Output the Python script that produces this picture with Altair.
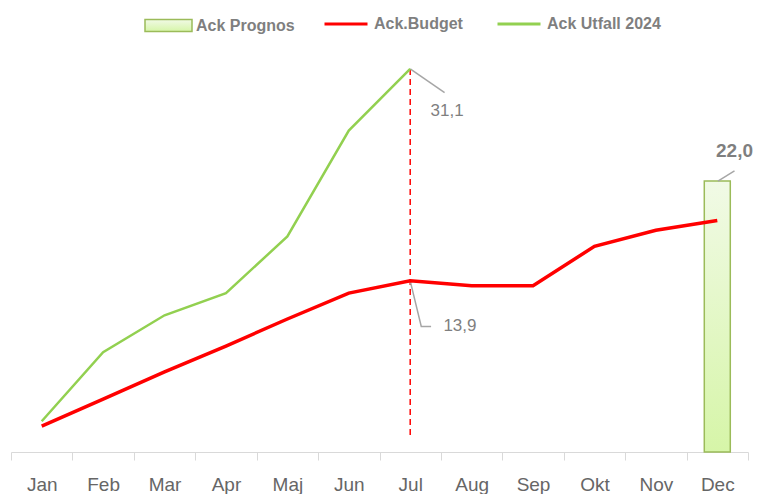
import altair as alt
import pandas as pd

months = ["Jan", "Feb", "Mar", "Apr", "Maj", "Jun", "Jul", "Aug", "Sep", "Okt", "Nov", "Dec"]
budget = [2.1, 4.3, 6.5, 8.6, 10.8, 12.9, 13.9, 13.5, 13.5, 16.7, 18.0, 18.8]
utfall = [2.5, 8.1, 11.1, 12.9, 17.5, 26.1, 31.1]
prognos_month = "Dec"
prognos_value = 22.0

series_budget = "Ack.Budget"
series_utfall = "Ack Utfall 2024"
series_prognos = "Ack Prognos"

# annotation positions (data coordinates)
leader_pts = [
    ("u", 0, 6.5, 31.1), ("u", 1, 7.06, 29.17),
    ("b", 0, 6.5, 13.9), ("b", 1, 6.68, 10.19), ("b", 2, 6.84, 10.19),
    ("p", 0, 11.51, 22.0), ("p", 1, 11.78, 22.82),
]
label_small = [(7.10, 27.65, "31,1"), (7.31, 10.19, "13,9")]
label_big = [(11.78, 24.48, "22,0")]
cutoff_top = 31.1
cutoff_bottom = 1.2

FONT = "Liberation Sans"

rows = []
for i, v in enumerate(budget):
    rows.append({"pos": i + 0.5, "value": v, "series": series_budget})
for i, v in enumerate(utfall):
    rows.append({"pos": i + 0.5, "value": v, "series": series_utfall})
lines_df = pd.DataFrame(rows)

bar_df = pd.DataFrame([{"pos": months.index(prognos_month) + 0.5, "value": prognos_value,
                        "series": series_prognos}])
cut_idx = len(utfall) - 1 + 0.5
cut_df = pd.DataFrame([{"pos": cut_idx, "y": cutoff_top, "y2": cutoff_bottom}])
leader_df = pd.DataFrame(leader_pts, columns=["leader", "ord", "pos", "value"])
small_df = pd.DataFrame(label_small, columns=["pos", "value", "text"])
big_df = pd.DataFrame(label_big, columns=["pos", "value", "text"])

month_arr = "[" + ",".join("'%s'" % m for m in months) + "]"

xscale = alt.Scale(domain=[0, 12], nice=False, zero=False, padding=0)
yscale = alt.Scale(domain=[0, 36.7], nice=False, zero=True, padding=0)

x_axis = alt.Axis(
    values=list(range(13)),
    labelExpr="datum.value < 12 ? %s[datum.value] : ''" % month_arr,
    labelOffset={"condition": {"test": "datum.value >= 12", "value": 0}, "value": 30.7},
    labelFlush=False, labelOverlap=False, labelBound=False,
    grid=False, title=None, tickColor="#D9D9D9", domainColor="#D9D9D9",
    tickSize=8, labelPadding=15, labelFont=FONT, labelFontSize=19,
    labelColor="#666666", labelAlign="center",
)

X = alt.X("pos:Q", scale=xscale, axis=x_axis)
Y = alt.Y("value:Q", scale=yscale, axis=None)

gradient = alt.LinearGradient(
    gradient="linear", x1=0, x2=0, y1=0, y2=1,
    stops=[alt.GradientStop(color="#F1FAE6", offset=0),
           alt.GradientStop(color="#D6F5A8", offset=1)],
)

bar = alt.Chart(bar_df).mark_bar(size=26, fill=gradient, strokeWidth=1.5).encode(
    x=X, y=Y,
    stroke=alt.Stroke("series:N", scale=alt.Scale(domain=[series_prognos], range=["#9BBB59"]),
                      legend=alt.Legend(orient="none", legendX=133, legendY=1, title=None,
                                        symbolType="M-1,-0.255H1V0.255H-1Z", symbolSize=2209,
                                        symbolFillColor="#E2F5C8", symbolStrokeWidth=1.5,
                                        labelFont=FONT, labelFontSize=16, labelFontWeight="bold",
                                        labelColor="#7F7F7F", labelOffset=3, padding=0)),
)

cut = alt.Chart(cut_df).mark_rule(color="#FF0000", strokeDash=[6, 4], strokeWidth=1.5).encode(
    x=alt.X("pos:Q", scale=xscale, axis=x_axis), y=alt.Y("y:Q", scale=yscale, axis=None), y2="y2:Q")

lines = alt.Chart(lines_df).mark_line().encode(
    x=X, y=Y,
    color=alt.Color("series:N",
                    scale=alt.Scale(domain=[series_budget, series_utfall], range=["#FF0000", "#92D050"]),
                    legend=alt.Legend(orient="none", legendX=312, legendY=1, title=None,
                                      direction="horizontal", symbolType="stroke", symbolSize=1849,
                                      symbolStrokeWidth=3, labelFont=FONT, labelFontSize=16,
                                      labelFontWeight="bold", labelColor="#7F7F7F", labelOffset=5,
                                      columnPadding=28, padding=0)),
    strokeWidth=alt.condition(alt.datum.series == series_budget, alt.value(3.5), alt.value(2.5)),
)

leaders = alt.Chart(leader_df).mark_line(color="#A6A6A6", strokeWidth=1.5).encode(
    x=X, y=Y, detail="leader:N", order="ord:Q")

small = alt.Chart(small_df).mark_text(font=FONT, fontSize=17, color="#7F7F7F").encode(
    x=X, y=Y, text="text:N")
big = alt.Chart(big_df).mark_text(font=FONT, fontSize=19, fontWeight="bold", color="#7F7F7F").encode(
    x=X, y=Y, text="text:N")

chart = alt.layer(bar, cut, leaders, lines, small, big).properties(
    width=737, height=452,
    padding={"left": 10, "top": 0, "right": 0, "bottom": 0},
).configure_view(stroke=None).resolve_scale(color="independent", stroke="independent")

chart.save("out.html", embed_options={"renderer": "svg", "actions": False})
